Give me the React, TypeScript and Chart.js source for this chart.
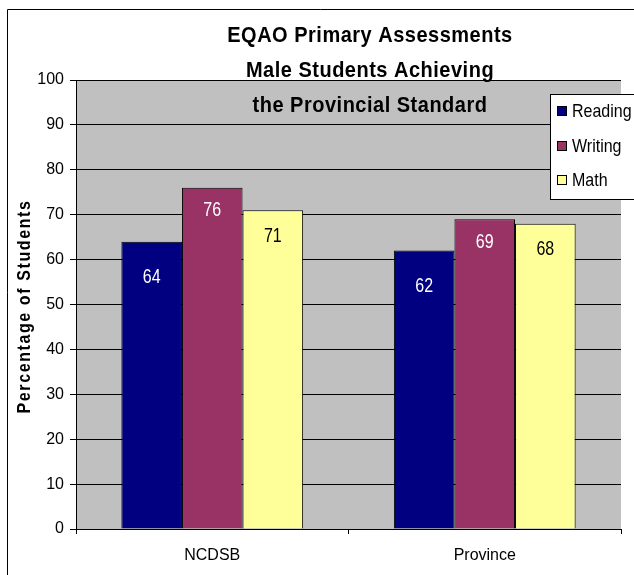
import React, { useEffect, useRef } from "react";
import { Chart, registerables } from "chart.js";

Chart.register(...registerables);

const categories = ["NCDSB", "Province"];
const seriesNames = ["Reading", "Writing", "Math"];
const reading = [64, 62];
const writing = [76, 69];
const math = [71, 68];
const titleLines = [
  "EQAO Primary Assessments",
  "Male Students Achieving",
  "the Provincial Standard",
];
const yAxisTitle = "Percentage of Students";
const yMin = 0;
const yMax = 100;
const yStep = 10;

const colors = ["#000080", "#993366", "#FFFF99"];
const labelColors = ["#FFFFFF", "#FFFFFF", "#000000"];
const labelOffsets = [36, 23, 26];
const FONT = "Arial, 'Liberation Sans', sans-serif";

function stretchedText(ctx: any, text: string, x: number, y: number, sy: number) {
  ctx.save();
  ctx.translate(x, y);
  ctx.scale(1, sy);
  ctx.fillText(text, 0, 0);
  ctx.restore();
}

const decorPlugin = {
  id: "decor",
  beforeDraw(chart: any) {
    const { ctx, chartArea } = chart;
    ctx.save();
    ctx.fillStyle = "#FFFFFF";
    ctx.fillRect(0, 0, chart.width, chart.height);
    ctx.strokeStyle = "#000000";
    ctx.lineWidth = 1;
    ctx.beginPath();
    ctx.moveTo(7.5, chart.height);
    ctx.lineTo(7.5, 9.5);
    ctx.lineTo(chart.width, 9.5);
    ctx.stroke();
    ctx.fillStyle = "#C0C0C0";
    ctx.fillRect(
      chartArea.left,
      chartArea.top,
      chartArea.right - chartArea.left,
      chartArea.bottom - chartArea.top
    );
    ctx.restore();
  },
  afterDatasetsDraw(chart: any) {
    const { ctx } = chart;
    ctx.save();
    ctx.font = "16px " + FONT;
    ctx.textAlign = "center";
    ctx.textBaseline = "middle";
    chart.data.datasets.forEach((ds: any, i: number) => {
      const meta = chart.getDatasetMeta(i);
      meta.data.forEach((bar: any, j: number) => {
        ctx.fillStyle = labelColors[i];
        stretchedText(ctx, String(ds.data[j]), bar.x, bar.y + labelOffsets[i], 1.22);
      });
    });
    ctx.restore();
  },
  afterDraw(chart: any) {
    const { ctx, chartArea } = chart;
    ctx.save();
    // title
    ctx.fillStyle = "#000000";
    ctx.font = "bold 20px " + FONT;
    (ctx as any).letterSpacing = "0.5px";
    ctx.textAlign = "center";
    ctx.textBaseline = "alphabetic";
    const ys = [42, 77, 112];
    titleLines.forEach((t, i) => stretchedText(ctx, t, 370, ys[i], 1.08));
    // y-axis title
    ctx.save();
    ctx.font = "bold 16px " + FONT;
    (ctx as any).letterSpacing = "1.6px";
    ctx.translate(25, (chartArea.top + chartArea.bottom) / 2 + 2);
    ctx.rotate(-Math.PI / 2);
    ctx.scale(1, 1.12);
    ctx.textAlign = "center";
    ctx.textBaseline = "middle";
    ctx.fillText(yAxisTitle, 0, 0);
    ctx.restore();
    (ctx as any).letterSpacing = "0px";
    // legend
    ctx.fillStyle = "#FFFFFF";
    ctx.fillRect(550.5, 94.5, 95, 105);
    ctx.strokeStyle = "#000000";
    ctx.lineWidth = 1;
    ctx.strokeRect(550.5, 94.5, 95, 105);
    const ly = [112, 147, 181];
    ctx.font = "16px " + FONT;
    ctx.textAlign = "left";
    ctx.textBaseline = "middle";
    chart.data.datasets.forEach((ds: any, i: number) => {
      ctx.fillStyle = colors[i];
      ctx.fillRect(557.5, ly[i] - 5.5, 9, 9);
      ctx.strokeRect(557.5, ly[i] - 5.5, 9, 9);
      ctx.fillStyle = "#000000";
      stretchedText(ctx, ds.label, 572, ly[i], 1.2);
    });
    ctx.restore();
  },
};

export default function App() {
  const ref = useRef<HTMLCanvasElement | null>(null);
  useEffect(() => {
    if (!ref.current) return;
    const seriesData = [reading, writing, math];
    const chart = new Chart(ref.current, {
      type: "bar",
      data: {
        labels: categories,
        datasets: seriesNames.map((name, i) => ({
          label: name,
          data: seriesData[i],
          backgroundColor: colors[i],
          borderColor: "#000000",
          borderWidth: 1,
          categoryPercentage: 0.667,
          barPercentage: 1,
        })),
      },
      options: {
        responsive: false,
        animation: false,
        devicePixelRatio: 1,
        layout: { padding: { top: 80, right: 13, left: 0, bottom: 0 } },
        plugins: {
          legend: { display: false },
          title: { display: false },
          tooltip: { enabled: false },
        },
        scales: {
          x: {
            offset: true,
            grid: {
              display: true,
              offset: true,
              drawOnChartArea: false,
              tickLength: 5,
              color: "#000000",
            },
            border: { display: true, color: "#000000" },
            ticks: {
              color: "#000000",
              padding: 12,
              font: { family: FONT, size: 16 },
            },
            afterFit: (s: any) => {
              s.height = 46;
            },
          },
          y: {
            min: yMin,
            max: yMax,
            ticks: {
              stepSize: yStep,
              color: "#000000",
              padding: 6,
              font: { family: FONT, size: 16 },
            },
            grid: { color: "#000000", tickLength: 6, lineWidth: 1 },
            border: { display: true, color: "#000000" },
            afterFit: (s: any) => {
              s.width = 76;
            },
          },
        },
      },
      plugins: [decorPlugin],
    });
    return () => chart.destroy();
  }, []);
  return (
    <div style={{ position: "fixed", left: 0, top: 0, width: 634, height: 575 }}>
      <canvas ref={ref} width={634} height={575} style={{ display: "block" }} />
    </div>
  );
}
